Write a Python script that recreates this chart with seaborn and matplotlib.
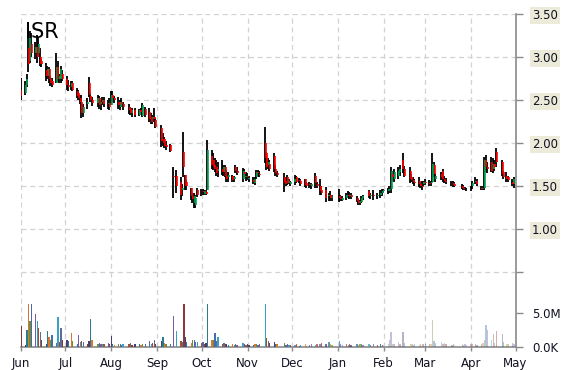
import numpy as np
import pandas as pd
import matplotlib
matplotlib.use("Agg")
import matplotlib.pyplot as plt
import matplotlib.dates as mdates
from matplotlib.colors import to_rgba
import seaborn as sns

# ---------------- data ----------------
ticker = "ISR"
month_starts = ["2018-06-01", "2018-07-01", "2018-08-01", "2018-09-01", "2018-10-01", "2018-11-01",
                "2018-12-01", "2019-01-01", "2019-02-01", "2019-03-01", "2019-04-01", "2019-05-01"]
month_labels = ["Jun", "Jul", "Aug", "Sep", "Oct", "Nov", "Dec", "Jan", "Feb", "Mar", "Apr", "May"]
price_ticks = [0.5, 1.0, 1.5, 2.0, 2.5, 3.0, 3.5]
price_tick_labels = ["", "1.00", "1.50", "2.00", "2.50", "3.00", "3.50"]
volume_ticks = [0, 5_000_000]
volume_tick_labels = ["0.0K", "5.0M"]

dates = [
    "06-01", "06-04", "06-05", "06-06", "06-07", "06-08", "06-11", "06-12", "06-13", "06-14", "06-15", "06-18", "06-19", "06-20", "06-21", "06-22", "06-25", "06-26", "06-27", "06-28", "06-29",
    "07-02", "07-03", "07-05", "07-06", "07-09", "07-10", "07-11", "07-12", "07-13", "07-16", "07-17", "07-18", "07-19", "07-23", "07-24", "07-25", "07-26", "07-27", "07-30", "07-31",
    "08-01", "08-02", "08-03", "08-06", "08-07", "08-08", "08-09", "08-13", "08-14", "08-15", "08-17", "08-20", "08-21", "08-22", "08-24", "08-27", "08-28", "08-29", "08-30", "08-31",
    "09-04", "09-05", "09-06", "09-07", "09-10", "09-12", "09-14", "09-17", "09-18", "09-19", "09-20", "09-21", "09-24", "09-25", "09-26", "09-27", "09-28",
    "10-01", "10-02", "10-03", "10-04", "10-05", "10-08", "10-09", "10-10", "10-11", "10-12", "10-15", "10-16", "10-17", "10-18", "10-19", "10-22", "10-23", "10-24", "10-25", "10-29", "10-30", "10-31",
    "11-01", "11-02", "11-05", "11-06", "11-07", "11-08", "11-09", "11-13", "11-14", "11-15", "11-16", "11-19", "11-20", "11-21", "11-26", "11-27", "11-28", "11-29", "11-30",
    "12-03", "12-04", "12-06", "12-07", "12-10", "12-11", "12-13", "12-14", "12-17", "12-18", "12-20", "12-21", "12-24", "12-26", "12-27", "12-28",
    "01-02", "01-03", "01-04", "01-07", "01-08", "01-09", "01-10", "01-14", "01-15", "01-16", "01-17", "01-18", "01-22", "01-23", "01-25", "01-28", "01-30", "01-31",
    "02-01", "02-04", "02-05", "02-06", "02-07", "02-08", "02-11", "02-12", "02-14", "02-15", "02-19", "02-20", "02-21", "02-22", "02-25", "02-26", "02-27", "02-28",
    "03-01", "03-04", "03-05", "03-06", "03-07", "03-08", "03-12", "03-13", "03-14", "03-15", "03-19", "03-20", "03-21", "03-26", "03-27", "03-28", "03-29",
    "04-01", "04-02", "04-04", "04-05", "04-08", "04-09", "04-10", "04-11", "04-12", "04-15", "04-16", "04-17", "04-18", "04-22", "04-23", "04-25", "04-26", "04-29", "04-30",
]

opens = [
    2.62, 2.58, 2.68, 3.10, 2.95, 3.15, 3.05, 3.12, 3.05, 3.00, 2.95, 2.85, 2.78, 2.86, 2.75, 2.72, 2.70, 2.88, 2.75, 2.74, 2.80,
    2.75, 2.68, 2.65, 2.70, 2.60, 2.58, 2.52, 2.48, 2.35, 2.45, 2.70, 2.55, 2.50, 2.47, 2.52, 2.45, 2.48, 2.50, 2.45, 2.47,
    2.44, 2.56, 2.52, 2.48, 2.42, 2.48, 2.45, 2.42, 2.40, 2.35, 2.38, 2.32, 2.38, 2.31, 2.40, 2.36, 2.30, 2.28, 2.30, 2.27,
    2.18, 2.05, 2.05, 1.98, 1.98, 1.62, 1.62, 1.55, 1.45, 1.90, 1.63, 1.55, 1.48, 1.38, 1.30, 1.28, 1.45,
    1.42, 1.44, 1.41, 1.43, 1.45, 1.85, 1.80, 1.75, 1.72, 1.68, 1.70, 1.66, 1.72, 1.62, 1.60, 1.62, 1.58, 1.72, 1.68, 1.58, 1.66, 1.60,
    1.62, 1.58, 1.57, 1.53, 1.60, 1.66, 1.64, 2.00, 1.88, 1.75, 1.76, 1.85, 1.70, 1.65, 1.60, 1.56, 1.60, 1.54, 1.52,
    1.55, 1.60, 1.57, 1.56, 1.58, 1.53, 1.52, 1.50, 1.62, 1.52, 1.50, 1.45, 1.45, 1.38, 1.40, 1.36,
    1.38, 1.36, 1.34, 1.36, 1.40, 1.38, 1.39, 1.36, 1.33, 1.30, 1.31, 1.36, 1.44, 1.38, 1.40, 1.38, 1.40, 1.42,
    1.44, 1.44, 1.45, 1.47, 1.64, 1.58, 1.62, 1.66, 1.80, 1.70, 1.68, 1.60, 1.57, 1.55, 1.56, 1.52, 1.50, 1.52,
    1.55, 1.54, 1.53, 1.55, 1.75, 1.58, 1.64, 1.68, 1.58, 1.56, 1.54, 1.54, 1.52, 1.50, 1.48, 1.47, 1.46,
    1.46, 1.50, 1.55, 1.56, 1.48, 1.47, 1.48, 1.80, 1.72, 1.78, 1.70, 1.76, 1.90, 1.78, 1.66, 1.62, 1.60, 1.55, 1.52,
]

highs = [
    2.76, 2.72, 2.80, 3.26, 3.30, 3.28, 3.18, 3.26, 3.22, 3.10, 2.98, 2.93, 2.90, 2.88, 2.78, 2.76, 3.05, 2.95, 2.80, 2.90, 2.85,
    2.78, 2.73, 2.72, 2.72, 2.64, 2.62, 2.56, 2.56, 2.45, 2.52, 2.77, 2.58, 2.53, 2.56, 2.55, 2.50, 2.54, 2.53, 2.50, 2.52,
    2.60, 2.60, 2.55, 2.53, 2.50, 2.52, 2.48, 2.45, 2.42, 2.41, 2.41, 2.40, 2.41, 2.46, 2.42, 2.41, 2.35, 2.33, 2.41, 2.29,
    2.21, 2.12, 2.07, 2.02, 1.99, 1.72, 1.69, 1.60, 1.52, 2.13, 1.63, 1.57, 1.48, 1.42, 1.42, 1.40, 1.48,
    1.46, 1.46, 1.45, 1.45, 2.03, 1.92, 1.88, 1.82, 1.80, 1.78, 1.80, 1.75, 1.74, 1.69, 1.66, 1.63, 1.62, 1.74, 1.72, 1.71, 1.70, 1.66,
    1.65, 1.62, 1.60, 1.60, 1.69, 1.69, 1.68, 2.19, 1.90, 1.82, 1.80, 1.88, 1.75, 1.68, 1.65, 1.60, 1.63, 1.58, 1.56,
    1.63, 1.62, 1.59, 1.58, 1.58, 1.55, 1.55, 1.54, 1.65, 1.55, 1.58, 1.50, 1.49, 1.42, 1.44, 1.40,
    1.47, 1.40, 1.38, 1.42, 1.44, 1.43, 1.42, 1.38, 1.35, 1.34, 1.38, 1.40, 1.45, 1.42, 1.45, 1.42, 1.45, 1.46,
    1.47, 1.48, 1.50, 1.72, 1.68, 1.70, 1.72, 1.74, 1.88, 1.73, 1.72, 1.64, 1.60, 1.58, 1.60, 1.55, 1.56, 1.56,
    1.58, 1.57, 1.56, 1.88, 1.78, 1.64, 1.66, 1.70, 1.62, 1.59, 1.56, 1.56, 1.55, 1.52, 1.51, 1.49, 1.48,
    1.50, 1.56, 1.60, 1.58, 1.50, 1.50, 1.84, 1.86, 1.78, 1.84, 1.82, 1.80, 1.94, 1.80, 1.68, 1.66, 1.62, 1.58, 1.60,
]

lows = [
    2.50, 2.56, 2.65, 2.83, 2.93, 3.00, 2.98, 2.93, 3.00, 2.90, 2.88, 2.72, 2.75, 2.70, 2.66, 2.65, 2.70, 2.71, 2.70, 2.70, 2.72,
    2.62, 2.60, 2.62, 2.60, 2.52, 2.50, 2.45, 2.29, 2.30, 2.40, 2.53, 2.48, 2.43, 2.42, 2.40, 2.38, 2.44, 2.42, 2.40, 2.38,
    2.44, 2.48, 2.46, 2.40, 2.38, 2.42, 2.38, 2.34, 2.32, 2.30, 2.30, 2.31, 2.33, 2.30, 2.30, 2.24, 2.22, 2.22, 2.24, 2.17,
    1.95, 1.96, 1.94, 1.92, 1.90, 1.36, 1.42, 1.34, 1.38, 1.60, 1.45, 1.45, 1.34, 1.30, 1.24, 1.24, 1.37,
    1.38, 1.40, 1.39, 1.40, 1.45, 1.70, 1.69, 1.66, 1.62, 1.60, 1.63, 1.62, 1.60, 1.55, 1.55, 1.55, 1.55, 1.65, 1.63, 1.55, 1.60, 1.56,
    1.57, 1.55, 1.52, 1.51, 1.58, 1.60, 1.60, 1.77, 1.69, 1.70, 1.68, 1.66, 1.62, 1.60, 1.43, 1.50, 1.51, 1.52, 1.50,
    1.51, 1.53, 1.54, 1.50, 1.49, 1.48, 1.48, 1.46, 1.48, 1.48, 1.40, 1.40, 1.31, 1.32, 1.33, 1.32,
    1.31, 1.33, 1.32, 1.34, 1.36, 1.35, 1.35, 1.31, 1.28, 1.28, 1.30, 1.34, 1.36, 1.35, 1.34, 1.35, 1.36, 1.38,
    1.42, 1.41, 1.42, 1.42, 1.56, 1.55, 1.58, 1.62, 1.65, 1.60, 1.53, 1.55, 1.52, 1.50, 1.49, 1.48, 1.45, 1.50,
    1.51, 1.50, 1.50, 1.55, 1.60, 1.55, 1.57, 1.55, 1.53, 1.52, 1.50, 1.49, 1.49, 1.46, 1.45, 1.45, 1.44,
    1.44, 1.47, 1.52, 1.50, 1.45, 1.45, 1.45, 1.66, 1.65, 1.66, 1.65, 1.68, 1.72, 1.62, 1.58, 1.55, 1.55, 1.50, 1.48,
]

closes = [
    2.55, 2.68, 2.75, 2.92, 3.22, 3.05, 3.12, 3.00, 3.15, 2.92, 2.92, 2.78, 2.86, 2.74, 2.70, 2.68, 2.88, 2.75, 2.78, 2.86, 2.75,
    2.68, 2.65, 2.70, 2.62, 2.55, 2.52, 2.48, 2.35, 2.42, 2.48, 2.56, 2.50, 2.46, 2.52, 2.44, 2.48, 2.50, 2.45, 2.47, 2.42,
    2.56, 2.52, 2.50, 2.44, 2.48, 2.45, 2.42, 2.38, 2.35, 2.38, 2.33, 2.38, 2.36, 2.44, 2.33, 2.28, 2.25, 2.30, 2.28, 2.19,
    2.02, 2.00, 1.97, 1.95, 1.91, 1.60, 1.50, 1.40, 1.48, 1.72, 1.50, 1.50, 1.38, 1.35, 1.38, 1.36, 1.40,
    1.42, 1.43, 1.44, 1.41, 1.92, 1.75, 1.72, 1.70, 1.65, 1.70, 1.66, 1.72, 1.62, 1.58, 1.63, 1.57, 1.60, 1.67, 1.65, 1.68, 1.64, 1.62,
    1.60, 1.59, 1.55, 1.58, 1.66, 1.65, 1.63, 1.82, 1.72, 1.78, 1.70, 1.70, 1.65, 1.63, 1.55, 1.52, 1.53, 1.56, 1.55,
    1.58, 1.55, 1.56, 1.52, 1.51, 1.50, 1.51, 1.52, 1.53, 1.50, 1.44, 1.42, 1.36, 1.40, 1.36, 1.38,
    1.36, 1.35, 1.36, 1.39, 1.38, 1.40, 1.37, 1.33, 1.30, 1.32, 1.36, 1.38, 1.38, 1.40, 1.38, 1.40, 1.42, 1.44,
    1.45, 1.46, 1.47, 1.68, 1.60, 1.66, 1.68, 1.70, 1.70, 1.62, 1.58, 1.57, 1.55, 1.53, 1.52, 1.50, 1.49, 1.55,
    1.54, 1.52, 1.55, 1.76, 1.64, 1.62, 1.60, 1.58, 1.56, 1.55, 1.53, 1.51, 1.50, 1.48, 1.47, 1.46, 1.46,
    1.47, 1.54, 1.56, 1.52, 1.47, 1.48, 1.80, 1.72, 1.70, 1.68, 1.76, 1.72, 1.78, 1.64, 1.60, 1.58, 1.57, 1.52, 1.58,
]

volumes_m = [
    3.1, 0.3, 2.5, 6.3, 3.8, 6.3, 4.8, 3.8, 2.8, 2.2, 1.1, 0.4, 2.4, 1.4, 1.1, 1.7, 0.6, 4.4, 0.8, 2.8, 1.0,
    1.0, 0.9, 2.0, 0.9, 0.5, 1.7, 0.7, 0.9, 0.8, 0.4, 0.9, 4.1, 1.0, 0.5, 0.6, 0.4, 0.5, 0.4, 0.6, 0.5,
    1.6, 0.4, 0.3, 0.5, 0.5, 0.3, 0.4, 0.5, 0.6, 0.3, 0.4, 0.5, 0.3, 0.4, 0.4, 0.9, 0.4, 0.6, 1.0, 0.5,
    0.9, 1.4, 0.6, 0.5, 0.4, 4.5, 2.3, 0.9, 0.8, 6.3, 1.5, 0.8, 0.6, 1.0, 1.1, 0.7, 0.8,
    0.6, 0.7, 0.5, 0.6, 6.3, 1.0, 1.1, 2.0, 0.9, 1.4, 0.5, 0.6, 0.4, 0.5, 0.3, 0.4, 0.3, 0.5, 0.3, 0.6, 0.4, 0.3,
    0.4, 0.3, 0.3, 0.4, 0.5, 0.3, 0.4, 6.3, 1.3, 0.9, 0.6, 0.7, 0.5, 0.4, 0.6, 0.3, 0.4, 0.3, 0.3,
    0.3, 0.4, 0.2, 0.3, 0.4, 0.2, 0.3, 0.4, 0.3, 0.5, 0.4, 0.6, 0.5, 0.7, 0.4, 0.3,
    0.9, 0.4, 0.3, 0.5, 0.3, 0.4, 0.3, 0.4, 0.3, 0.5, 0.4, 0.3, 0.5, 0.3, 0.4, 0.3, 0.5, 0.3,
    0.3, 0.4, 1.0, 2.2, 0.5, 0.4, 0.8, 0.5, 2.2, 0.6, 0.5, 0.4, 0.3, 0.4, 0.3, 0.4, 0.5, 0.4,
    0.4, 0.5, 0.4, 3.9, 0.9, 0.6, 0.7, 0.5, 0.6, 0.4, 0.3, 0.5, 0.3, 0.4, 0.3, 0.4, 0.3,
    0.4, 0.5, 0.4, 0.3, 0.5, 0.6, 1.0, 3.3, 2.5, 1.0, 1.9, 0.6, 2.4, 1.9, 0.7, 0.5, 0.4, 0.6, 0.5,
]

n = len(dates)
assert all(len(a) == n for a in (opens, highs, lows, closes, volumes_m)), [len(a) for a in (dates, opens, highs, lows, closes, volumes_m)]

# ---------------- figure ----------------
sns.set_theme(style="white")
plt.rcParams['font.family'] = ['DejaVu Sans']

W, H = 570, 370
fig = plt.figure(figsize=(W / 100, H / 100), dpi=100)
left_px, right_px, top_px, bottom_px = 21, 515.5, 14, 347
ax = fig.add_axes([left_px / W, 1 - bottom_px / H, (right_px - left_px) / W, (bottom_px - top_px) / H])
ax2 = ax.twinx()

full_dates = pd.to_datetime([("2018-" if int(d[:2]) >= 6 else "2019-") + d for d in dates])
x = mdates.date2num(full_dates)
o = np.array(opens); h = np.array(highs); l = np.array(lows); c = np.array(closes)
v = np.array(volumes_m) * 1e6

grid_color = "#d2d2d2"
axis_color = "#8a8a8a"

# candles
up = c >= o
ax.vlines(x - 0.25, l, h, color="black", lw=1.3, zorder=3)
ax.vlines(x[up] + 0.3, o[up], c[up], color="#00a651", lw=1.2, zorder=4)
ax.vlines(x[~up] + 0.3, c[~up], o[~up], color="#ff0000", lw=1.2, zorder=4)

# volume bars
palette = sns.color_palette(["#8b3a3a", "#4b3f72", "#2b7c8c", "#d9782d", "#6f8f3a",
                             "#3f6fb0", "#7b5aa6", "#35a3c4", "#a0522d", "#5a6e99"])
month_num = np.array([int(d[:2]) for d in dates])
alphas = np.where(np.isin(month_num, [6, 7, 8, 9, 10, 11]), 1.0,
                  np.where(np.isin(month_num, [12, 1]), 0.75, 0.4))
bar_colors = [to_rgba(palette[i % len(palette)], alphas[i]) for i in range(n)]
ax2.bar(x, v, width=0.9, color=bar_colors, linewidth=0, zorder=2)

# scales
xmin = mdates.date2num(pd.Timestamp(month_starts[0]))
xmax = mdates.date2num(pd.Timestamp(month_starts[-1]))
ax.set_xlim(xmin, xmax)
price_per_px = 0.5 / 43.0
ax.set_ylim(3.5 - (bottom_px - top_px) * price_per_px, 3.5)
vol_per_px = 5e6 / 34.0
ax2.set_ylim(0, (bottom_px - top_px) * vol_per_px)

# ticks
ax.set_xticks(mdates.date2num(pd.to_datetime(month_starts)))
ax.set_xticklabels(month_labels)
ax.yaxis.tick_right()
ax.set_yticks(price_ticks)
ax.set_yticklabels(price_tick_labels)
ax2.set_yticks(volume_ticks)
ax2.set_yticklabels(volume_tick_labels)

for a in (ax, ax2):
    a.tick_params(axis="y", which="both", direction="out", length=5, width=1, color=axis_color,
                  pad=7, labelsize=8.5, labelcolor="#111122", left=False, right=True,
                  labelleft=False, labelright=True)
ax.tick_params(axis="x", direction="out", length=3, width=1, color=axis_color, pad=4,
               labelsize=8.5, labelcolor="#111122", bottom=True)

for lbl in ax.get_yticklabels():
    if lbl.get_text():
        lbl.set_bbox(dict(boxstyle="square,pad=0.15", facecolor="#ecead9", edgecolor="none"))

# grid
ax.set_axisbelow(True)
ax.grid(True, axis="both", color=grid_color, linestyle=(0, (4, 3)), linewidth=0.9)
ax2.grid(False)

# spines
for a in (ax, ax2):
    for s in ("left", "top"):
        a.spines[s].set_visible(False)
for s in ("right", "bottom"):
    ax2.spines[s].set_visible(False)
ax.spines["right"].set_color(axis_color)
ax.spines["bottom"].set_color(axis_color)
ax.spines["right"].set_linewidth(1.2)
ax.spines["bottom"].set_linewidth(1.2)

ax.text(0.008, 0.928, ticker, transform=ax.transAxes, fontsize=15, color="black",
        ha="left", va="baseline", zorder=6)

fig.savefig("out.png", dpi=100)
